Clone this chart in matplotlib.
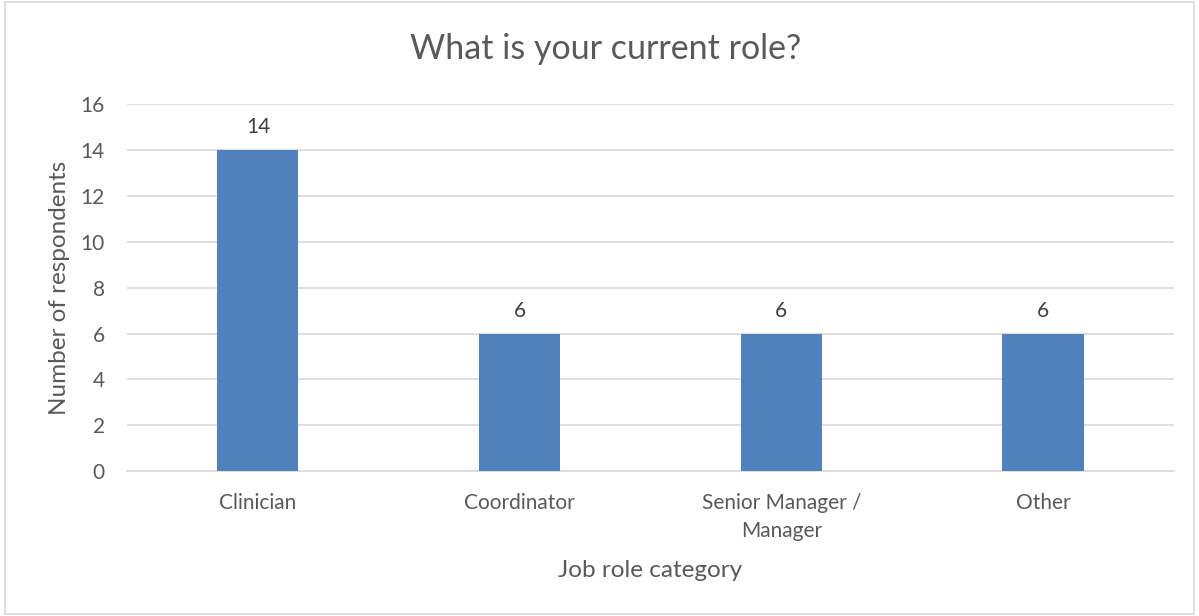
import matplotlib.pyplot as plt
from matplotlib.patches import Rectangle

plt.rcParams['font.family'] = ['Lato', 'DejaVu Sans']

categories = ['Clinician', 'Coordinator', 'Senior Manager /\nManager', 'Other']
counts = [14, 6, 6, 6]
yticks = [0, 2, 4, 6, 8, 10, 12, 14, 16]

text_col = '#595959'
bar_col = '#4F81BD'
grid_col = '#D9D9D9'

fig = plt.figure(figsize=(11.99, 6.16), dpi=100)
ax = fig.add_axes([0.106, 0.235, 0.873, 0.596])

x = list(range(len(categories)))
bars = ax.bar(x, counts, width=0.31, color=bar_col, zorder=3)
for b, v in zip(bars, counts):
    ax.annotate(str(v), (b.get_x() + b.get_width() / 2, v), xytext=(0, 9),
                textcoords='offset points', ha='center', va='bottom',
                fontsize=15, color='#404040')

ax.set_xlim(-0.5, len(categories) - 0.5)
ax.set_ylim(0, 16)
ax.set_yticks(yticks)
ax.set_xticks(x)
ax.set_xticklabels(categories, fontsize=15, color=text_col, linespacing=1.45)
ax.tick_params(axis='y', labelsize=15, labelcolor=text_col, length=0, pad=16)
ax.tick_params(axis='x', length=0, pad=16)
ax.grid(axis='y', color=grid_col, linewidth=1.2, zorder=0)
for s in ['top', 'right', 'left']:
    ax.spines[s].set_visible(False)
ax.spines['bottom'].set_color(grid_col)
ax.spines['bottom'].set_linewidth(1.2)

ax.set_xlabel('Job role category', fontsize=17.5, color=text_col, labelpad=14)
ax.set_ylabel('Number of respondents', fontsize=17.5, color=text_col, labelpad=8)
fig.text(0.505, 0.92, 'What is your current role?', ha='center', va='center',
         fontsize=24.5, color=text_col)

fig.patches.append(Rectangle((0.004, 0.004), 0.992, 0.992, transform=fig.transFigure,
                             fill=False, edgecolor='#D9D9D9', linewidth=1.2))

fig.savefig('out.png', dpi=100, facecolor='white')
